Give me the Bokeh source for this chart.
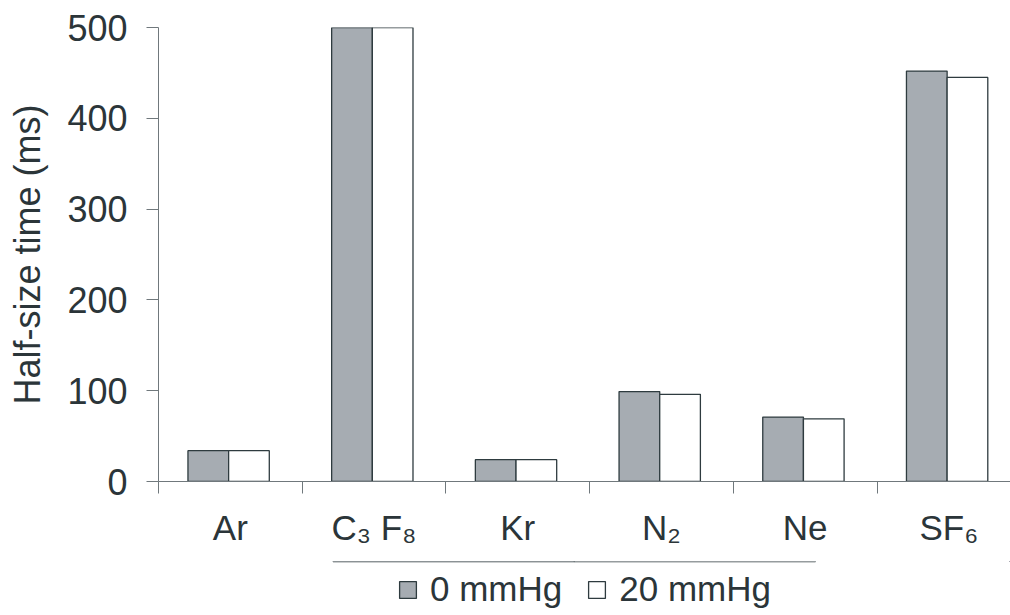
from bokeh.plotting import figure
from bokeh.layouts import column
from bokeh.models import (FixedTicker, Legend, LegendItem, ColumnDataSource,
                          Range1d)
from bokeh.embed import file_html
from bokeh.resources import INLINE

gases = ["Ar", "C\u2083 F\u2088", "Kr", "N\u2082", "Ne", "SF\u2086"]
p0_mmHg = [34, 560, 24, 99, 71, 452]
p20_mmHg = [34, 560, 24, 96, 69, 445]
series_names = ["0 mmHg", "20 mmHg"]
y_ticks = [0, 100, 200, 300, 400, 500]

TEXT = "#2b3539"
AXIS = "#70787c"
EDGE = "#2e3b3f"
GRAY = "#a6acb2"
FONT = "Liberation Sans"

n = len(gases)
bw = 0.283
junction = [i + 0.488 for i in range(n)]
src = ColumnDataSource(dict(
    x0=[j - bw / 2 for j in junction],
    x20=[j + bw / 2 for j in junction],
    v0=p0_mmHg,
    v20=p20_mmHg,
))
centers = [i + 0.5 for i in range(n)]

left, top, bottom = 158, 27, 80
frame_w, frame_h = 852, 454
cat_px = 143.7
legend_h = 615 - (top + frame_h + bottom)

p = figure(frame_width=frame_w, frame_height=frame_h, output_backend="svg",
           toolbar_location=None,
           x_range=Range1d(0, frame_w / cat_px), y_range=Range1d(0, 500),
           min_border_left=left, min_border_right=0, min_border_top=top,
           min_border_bottom=bottom)
p.outline_line_color = None
p.grid.grid_line_color = None
p.background_fill_color = "white"
p.border_fill_color = "white"

r0 = p.vbar(x="x0", top="v0", bottom=0, width=bw, source=src,
            fill_color=GRAY, line_color=EDGE, line_width=1.3)
r20 = p.vbar(x="x20", top="v20", bottom=0, width=bw, source=src,
             fill_color="white", line_color=EDGE, line_width=1.3)

# x axis: names at category centres, separator ticks as minor ticks
xa = p.xaxis[0]
xa.ticker = FixedTicker(ticks=centers, minor_ticks=list(range(n + 1)))
xa.major_label_overrides = {c: g for c, g in zip(centers, gases)}
xa.major_tick_out = 0
xa.major_tick_in = 0
xa.minor_tick_out = 12
xa.minor_tick_in = 0
xa.minor_tick_line_color = AXIS
xa.axis_line_color = AXIS
xa.major_label_text_font = FONT
xa.major_label_text_font_size = "35px"
xa.major_label_text_color = TEXT
xa.major_label_standoff = 14

# y axis
ya = p.yaxis[0]
ya.ticker = FixedTicker(ticks=y_ticks)
ya.major_tick_out = 12
ya.major_tick_in = 0
ya.minor_tick_line_color = None
ya.major_tick_line_color = AXIS
ya.axis_line_color = AXIS
ya.major_label_text_font = FONT
ya.major_label_text_font_size = "36px"
ya.major_label_text_color = TEXT
ya.major_label_standoff = 19
ya.axis_label = "Half-size time (ms)"
ya.axis_label_text_font = FONT
ya.axis_label_text_font_size = "36px"
ya.axis_label_text_font_style = "normal"
ya.axis_label_text_color = TEXT
ya.axis_label_standoff = 16

# legend strip below the chart (its bars lie outside its visible range)
lf = figure(width=left + frame_w, height=legend_h, output_backend="svg",
            toolbar_location=None, x_axis_location=None, y_axis_location=None,
            x_range=Range1d(0, 1), y_range=Range1d(-2, -1), min_border=0)
lf.outline_line_color = None
lf.grid.visible = False
lf.background_fill_color = "white"
lf.border_fill_color = "white"
k0 = lf.vbar(x="x0", top="v0", bottom=0, width=bw, source=src,
             fill_color=GRAY, line_color=EDGE, line_width=1.3)
k20 = lf.vbar(x="x20", top="v20", bottom=0, width=bw, source=src,
              fill_color="white", line_color=EDGE, line_width=1.3)

legend = Legend(items=[LegendItem(label=series_names[0], renderers=[k0]),
                       LegendItem(label=series_names[1], renderers=[k20])],
                orientation="horizontal", location=(239, 6))
legend.label_text_font = FONT
legend.label_text_font_size = "35px"
legend.label_text_color = TEXT
legend.label_height = 21
legend.glyph_width = 21
legend.glyph_height = 21
legend.label_standoff = 12
legend.spacing = 24
legend.padding = 0
legend.margin = 0
legend.border_line_color = None
legend.background_fill_alpha = 0
lf.add_layout(legend, "center")

page = column(p, lf, spacing=0)
open("out.html", "w").write(file_html(page, INLINE))
